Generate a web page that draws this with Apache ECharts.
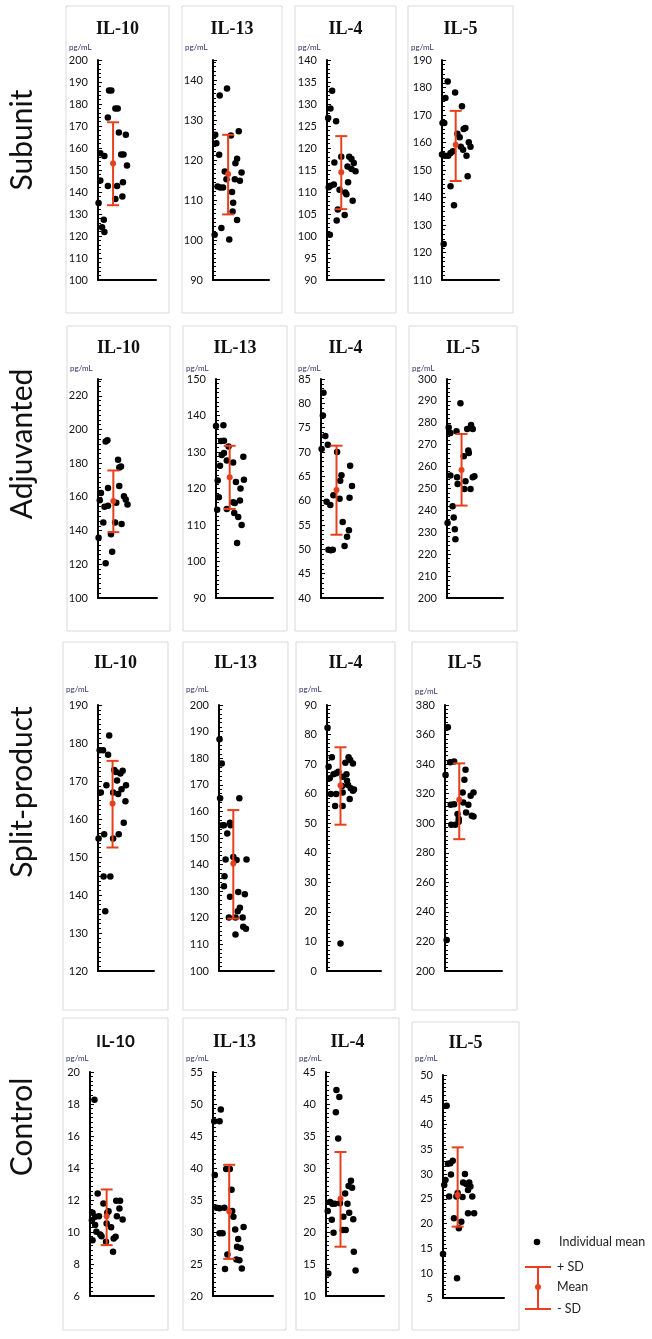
<!DOCTYPE html>
<html>
<head>
<meta charset="utf-8">
<script src="https://cdn.jsdelivr.net/npm/echarts@6/dist/echarts.min.js"></script>
<style>
  html, body { margin: 0; padding: 0; background: #fff; }
  #chart { width: 652px; height: 1339px; }
</style>
</head>
<body>
<div id="chart"></div>
<script>
// categories
const cytokines = ['IL-10', 'IL-13', 'IL-4', 'IL-5'];
const groups = ['Subunit', 'Adjuvanted', 'Split-product', 'Control'];

// y axis ticks per group (order IL-10, IL-13, IL-4, IL-5)
const yMin = [[100, 90, 90, 110], [100, 90, 40, 200], [120, 100, 0, 200], [6, 20, 10, 5]];
const yMax = [[200, 145, 140, 190], [230, 150, 85, 300], [190, 200, 90, 380], [20, 55, 45, 50]];
const yStep = [[10, 10, 5, 10], [20, 10, 5, 10], [10, 10, 10, 20], [2, 5, 5, 5]];

// individual means: [jitter, pg/mL]
const subunitIL10 = [[1.9,186.1],[2.3,186.1],[3.0,178],[3.4,178],[1.7,173.9],[3.6,167],[4.8,166],[0.4,157.6],[1.1,156.4],[4.0,157],[4.4,157],[0.4,145.2],[1.7,142.7],[3.3,142.7],[5.0,152],[4.3,144.4],[3.0,136.8],[4.2,138],[0.1,135],[1.0,127.4],[0.7,124],[1.1,121.8]];
const subunitIL13 = [[2.5,137.9],[1.2,136.1],[0.4,126.3],[0.6,124.2],[1.1,121.3],[4.6,127.2],[3.2,126.1],[4.3,120.3],[4.0,119.2],[5.1,116.9],[4.8,114.8],[3.9,115.2],[2.1,117.1],[2.4,115.2],[0.8,113.4],[1.3,113.1],[1.8,113.1],[3.4,112],[3.6,109.3],[3.5,107.1],[4.3,105],[1.5,103],[0.3,101.3],[2.9,100.1]];
const subunitIL4 = [[0.9,133],[0.6,129],[0.2,126.8],[1.6,126.1],[1.3,116.7],[2.5,118],[3.9,118],[4.3,117.5],[4.7,116.6],[3.6,115.8],[4.3,115.2],[5.0,114.7],[0.6,111.4],[1.2,111.7],[0.3,111.1],[2.2,110.5],[3.7,112.2],[3.2,109.9],[3.4,109.5],[4.5,108],[1.9,106],[3.1,104.8],[1.7,103.5],[0.5,100.3]];
const subunitIL5 = [[1.0,182.2],[0.6,176.2],[2.3,178.2],[0.4,167.1],[0.1,167.1],[3.5,173.2],[0,155.6],[0.5,155.2],[1.1,155.2],[1.5,156.2],[1.9,156.8],[2.7,163.2],[3.1,161.9],[3.8,164.9],[4.1,165.3],[4.7,160.1],[5.0,158.5],[3.7,157.4],[4.3,155.2],[4.5,147.7],[1.5,144.1],[2.1,137.2],[0.3,123.1],[3.3,158.5]];

const adjuvantedIL10 = [[1.3,192.9],[1.6,193.6],[3.4,182],[3.9,178.1],[3.6,177.5],[3.6,166.5],[1.7,165.3],[0.5,162.4],[0.3,158],[4.4,160.4],[4.7,158.4],[5.0,155.5],[3.1,156.5],[1.1,154.1],[1.7,154.7],[0.9,144.8],[2.9,144.8],[4.0,143.9],[2.2,137.8],[0.1,135.8],[2.4,127.5],[1.3,120.6]];
const adjuvantedIL13 = [[0,137.1],[1.3,137.3],[0.9,133],[1.4,133.1],[2.2,131.5],[1.4,129.7],[1.0,129.2],[0.7,126.2],[1.9,127.7],[3.0,127.1],[4.8,128.7],[0.3,122.2],[4.9,122.4],[3.5,121.8],[4.3,120],[0.5,117.6],[4.2,116.7],[3.3,116],[3.0,116.2],[0.2,114.2],[1.9,114.4],[3.2,113.3],[3.9,112.2],[4.5,110],[3.7,105.1]];
const adjuvantedIL4 = [[0.4,82.2],[0.3,77.5],[0.7,73.3],[1.1,71.5],[0.1,70.6],[2.6,70],[4.7,67.2],[3.3,65.2],[3.1,64.1],[5.0,63],[2.0,61.1],[3.0,60.4],[4.6,60.6],[0.9,59.8],[1.5,59.1],[3.5,55.6],[4.5,53.9],[4.2,52.6],[3.8,50.7],[1.2,49.9],[1.6,49.8],[1.9,49.9]];
const adjuvantedIL5 = [[2.4,288.9],[0.3,277.9],[0.6,275.3],[1.7,276.1],[3.6,277.2],[4.3,279],[4.6,277.2],[3.8,267.3],[3.9,266.2],[3.0,264.7],[0.6,255.9],[1.8,255.1],[1.9,252.1],[3.3,253.3],[4.9,255.6],[4.6,255.1],[3.1,249.8],[4.2,249.8],[1.0,241.9],[1.2,236.8],[0.1,234.2],[1.4,231.4],[1.5,226.8]];

const splitIL10 = [[2.0,182],[0.3,178.1],[0.9,178.1],[1.8,176.9],[0.5,167],[1.5,168.9],[2.9,172.9],[3.2,172.4],[4.4,172.7],[4.0,172],[3.4,170.1],[2.7,167],[3.6,166.6],[4.2,167.8],[5.0,168.9],[4.9,164.7],[4.6,159],[0.1,154.9],[1.1,156],[2.7,154.9],[3.7,156],[1.0,144.9],[2.2,144.9],[1.3,135.7]];
const splitIL13 = [[0.1,187.1],[0.5,178],[0.2,164.9],[3.7,164.9],[0.6,154.8],[0.9,154.8],[2.0,155.7],[2.1,154.8],[1.5,151.7],[1.2,141.9],[2.6,142.9],[3.2,141.7],[5.0,141.9],[1.0,135.6],[0.9,131.9],[2.0,127.9],[3.5,129.7],[4.7,128.9],[3.8,123.8],[3.4,122.5],[3.0,120.1],[1.8,120.1],[4.3,120.1],[4.4,116.6],[4.9,115.9],[3.0,113.7]];
const splitIL4 = [[0.1,82.3],[0.9,72.3],[0.3,69.1],[0.5,65.2],[1.2,66.6],[1.7,66.9],[2.1,67.4],[2.9,65.7],[3.6,66.6],[4.0,72.3],[4.3,71.4],[3.4,70.5],[4.8,70.2],[3.7,64.4],[3.9,62.9],[2.8,62.6],[4.4,61.8],[4.8,61],[5.0,61.4],[0.7,59.9],[1.7,59.9],[2.9,60.4],[4.2,58.2],[1.5,55.8],[2.9,55.8],[2.5,9.3]];
const splitIL5 = [[0.5,364.9],[0.9,341.2],[1.6,341.8],[0.1,332.6],[3.6,336.2],[3.4,329.4],[3.1,320.8],[5.0,320.8],[4.5,318.6],[1.0,312.5],[1.6,312.9],[3.2,314.1],[4.1,312.5],[2.2,306.2],[2.4,302.8],[3.7,307.3],[4.7,305],[5.0,304.6],[1.1,298.9],[1.8,298.9],[2.4,301],[0.3,221]];

const controlIL10 = [[0.7,18.27],[1.2,12.41],[0.4,11.2],[0.8,10.95],[1.4,10.99],[2.1,11.78],[2.7,11.2],[2.9,11.3],[4.1,11.95],[4.7,11.95],[4.6,11.47],[4.2,10.99],[5.1,10.78],[2.6,10.53],[3.3,10.29],[0.3,10.74],[0.8,10.43],[1.0,10.01],[1.6,9.85],[1.8,9.74],[3.7,9.6],[4.0,9.7],[0.4,9.49],[2.5,9.39],[3.6,8.77]];
const controlIL13 = [[1.3,49.15],[0.2,47.3],[1.1,47.3],[2.2,39.85],[2.8,39.85],[0.3,38.9],[3.1,36.6],[0.6,33.8],[1.1,33.7],[1.9,33.8],[3.2,33.3],[3.4,32.4],[3.7,30.4],[5.1,30.8],[1.1,29.8],[1.6,29.8],[4.2,28.9],[4.0,27.7],[4.6,27.5],[2.4,26.5],[3.9,25.7],[4.4,25.6],[2.0,24.2],[4.8,24.3]];
const controlIL4 = [[1.8,42.2],[2.3,41.1],[1.7,38.7],[2.1,34.6],[4.3,28],[4.5,26.9],[3.9,27.2],[3.3,26],[0.7,24.7],[1.1,24.4],[1.5,24.4],[2.4,24.5],[3.7,24.4],[0.3,23.3],[4.0,23],[3.0,22.4],[1.0,21.9],[4.7,22],[1.3,19.9],[2.9,20.3],[3.4,20.3],[4.8,16.9],[0.4,13.5],[5.1,14]];
const controlIL5 = [[0.6,43.8],[0.8,32.1],[1.2,32.2],[1.6,32.7],[1.3,29.9],[0.4,28.8],[0.2,27.8],[3.6,30],[3.3,28.3],[3.8,28],[4.3,28.3],[4.5,27.5],[4.1,26.8],[1.0,25.5],[2.2,25.5],[3.2,25.4],[4.8,25.5],[2.4,26.2],[4.1,22.1],[5.1,22.1],[1.8,21.1],[3.0,20.4],[2.6,19.1],[0,13.9],[2.3,9]];

// [mean, +SD, -SD] per cytokine
const subunitStats = [[153, 171.7, 134], [116.5, 126.3, 106.4], [114.5, 122.7, 106.1], [159.2, 171.5, 146]];
const adjuvantedStats = [[157.6, 175.7, 139.1], [123.1, 131.7, 114.4], [62.2, 71.3, 53], [258.4, 274.9, 242.2]];
const splitStats = [[164.1, 175.3, 152.5], [140.4, 160.5, 119.7], [62.8, 75.7, 49.5], [315.9, 340.5, 289.2]];
const controlStats = [[10.99, 12.66, 9.18], [33.2, 40.5, 25.8], [25.2, 32.5, 17.7], [25.8, 35.4, 19.4]];
// jitter position of the mean bar
const subunitStatX = [2.6, 2.7, 2.5, 2.4];
const adjuvantedStatX = [2.6, 2.4, 2.5, 2.6];
const splitStatX = [2.6, 2.6, 2.5, 2.5];
const controlStatX = [2.6, 2.7, 2.5, 2.4];

const groupPoints = [
  [subunitIL10, subunitIL13, subunitIL4, subunitIL5],
  [adjuvantedIL10, adjuvantedIL13, adjuvantedIL4, adjuvantedIL5],
  [splitIL10, splitIL13, splitIL4, splitIL5],
  [controlIL10, controlIL13, controlIL4, controlIL5]
];
const groupStats = [subunitStats, adjuvantedStats, splitStats, controlStats];
const groupStatX = [subunitStatX, adjuvantedStatX, splitStatX, controlStatX];

// layout (px)
const rowBox = [[6, 313], [326, 631], [642, 1010], [1018, 1330]];
const boxLeft = [[66, 182, 295, 408], [67, 183, 295, 409], [63, 183, 296, 412], [63, 183, 296, 412]];
const boxRight = [[169, 282, 396, 513], [170, 287, 396, 517], [168, 288, 395, 517], [168, 286, 399, 519]];
const axisLeft = [[98, 213, 327, 442], [98, 216, 321, 447], [98, 219, 327, 445], [90, 213, 326, 443]];
const axisRight = [[156, 269, 384, 499], [157, 273, 383, 503], [154, 274, 381, 502], [154, 273, 384, 504]];
const plotTop = [60, 379, 705, 1072];
const plotBottom = [280, 598, 971, 1296];
const titleY = [29, 348, 663, 1042];
const unitY = [47, 368, 689, 1058];
const rowLabelY = [140, 444, 792, 1127];

const RED = '#e8401c';
const LABEL_FONT = 'Lato';

function renderErrorBar (params, api) {
  const x = api.value(0);
  const mid = api.coord([x, api.value(1)]);
  const hi = api.coord([x, api.value(2)]);
  const lo = api.coord([x, api.value(3)]);
  const cap = 6;
  const line = { stroke: RED, lineWidth: 2 };
  return {
    type: 'group',
    children: [
      { type: 'line', shape: { x1: hi[0], y1: hi[1], x2: lo[0], y2: lo[1] }, style: line },
      { type: 'line', shape: { x1: hi[0] - cap, y1: hi[1], x2: hi[0] + cap, y2: hi[1] }, style: line },
      { type: 'line', shape: { x1: lo[0] - cap, y1: lo[1], x2: lo[0] + cap, y2: lo[1] }, style: line },
      { type: 'circle', shape: { cx: mid[0], cy: mid[1], r: 3 }, style: { fill: RED } }
    ]
  };
}

const grid = [];
const xAxis = [];
const yAxis = [];
const series = [];
const elements = [];

for (let r = 0; r < groups.length; r++) {
  for (let c = 0; c < cytokines.length; c++) {
    const i = r * 4 + c;
    let top = plotTop[r];
    let bottom = plotBottom[r];
    let boxTop = rowBox[r][0];
    if (r === 3 && c === 3) { top += 3; bottom += 2; boxTop += 4; }
    grid.push({
      left: axisLeft[r][c],
      top: top,
      width: axisRight[r][c] - axisLeft[r][c],
      height: bottom - top
    });
    xAxis.push({
      type: 'value', gridIndex: i, min: 0, max: 10,
      axisLine: { onZero: false, lineStyle: { color: '#000', width: 2 } },
      axisTick: { show: false }, axisLabel: { show: false }, splitLine: { show: false }
    });
    const span = yMax[r][c] - yMin[r][c];
    const pxPerStep = (bottom - top) * yStep[r][c] / span;
    yAxis.push({
      type: 'value', gridIndex: i,
      min: yMin[r][c], max: yMax[r][c], interval: yStep[r][c],
      axisLine: { onZero: false, lineStyle: { color: '#000', width: 2 } },
      axisTick: { inside: true, length: 4, lineStyle: { color: '#000', width: 1 } },
      minorTick: {
        show: true, splitNumber: Math.max(2, Math.round(pxPerStep / 4.5)),
        length: 3, lineStyle: { color: '#000', width: 1 }
      },
      splitLine: { show: false },
      axisLabel: {
        color: '#111', fontFamily: LABEL_FONT, fontSize: 11, margin: 10,
        showMaxLabel: yMax[r][c] % yStep[r][c] === 0
      }
    });
    series.push({
      type: 'scatter', xAxisIndex: i, yAxisIndex: i,
      data: groupPoints[r][c], symbolSize: 6.5, clip: false,
      itemStyle: { color: '#000', opacity: 1 }, z: 2
    });
    const st = groupStats[r][c];
    series.push({
      type: 'custom', xAxisIndex: i, yAxisIndex: i, clip: false, z: 3,
      renderItem: renderErrorBar,
      data: [[groupStatX[r][c], st[0], st[1], st[2]]]
    });

    elements.push({
      type: 'rect',
      shape: { x: boxLeft[r][c], y: boxTop, width: boxRight[r][c] - boxLeft[r][c], height: rowBox[r][1] - boxTop },
      style: { fill: 'transparent', stroke: '#d9d9d9', lineWidth: 1 }
    });
    const sansTitle = r === 3 && c === 0;
    elements.push({
      type: 'text',
      style: {
        text: cytokines[c],
        x: (boxLeft[r][c] + boxRight[r][c]) / 2,
        y: titleY[r] + (r === 3 && c === 3 ? 1 : 0),
        textAlign: 'center', textVerticalAlign: 'middle',
        font: sansTitle ? 'bold 17px Lato' : 'bold 18px "Liberation Serif"',
        fill: '#111'
      }
    });
    elements.push({
      type: 'text',
      style: {
        text: 'pg/mL', x: boxLeft[r][c] + 3, y: unitY[r] + (r === 2 && c === 3 ? 2 : 0),
        textAlign: 'left', textVerticalAlign: 'middle',
        font: '8px Lato', fill: '#2e3266'
      }
    });
  }
  elements.push({
    type: 'text', x: 22, y: rowLabelY[r], rotation: Math.PI / 2,
    style: {
      text: groups[r], x: 0, y: 0, textAlign: 'center', textVerticalAlign: 'middle',
      font: '30px Lato', fill: '#111'
    }
  });
}

// legend
const legendText = { font: '12.5px Lato', fill: '#222', textVerticalAlign: 'middle', textAlign: 'left' };
elements.push(
  { type: 'circle', shape: { cx: 537, cy: 1242, r: 3.3 }, style: { fill: '#000' } },
  { type: 'text', style: Object.assign({ text: 'Individual mean', x: 559, y: 1242 }, legendText) },
  { type: 'line', shape: { x1: 538, y1: 1267, x2: 538, y2: 1309 }, style: { stroke: RED, lineWidth: 2 } },
  { type: 'line', shape: { x1: 525, y1: 1267, x2: 551, y2: 1267 }, style: { stroke: RED, lineWidth: 2 } },
  { type: 'line', shape: { x1: 525, y1: 1309, x2: 551, y2: 1309 }, style: { stroke: RED, lineWidth: 2 } },
  { type: 'circle', shape: { cx: 538, cy: 1287, r: 3 }, style: { fill: RED } },
  { type: 'text', style: Object.assign({ text: '+ SD', x: 557, y: 1267 }, legendText) },
  { type: 'text', style: Object.assign({ text: 'Mean', x: 557, y: 1287 }, legendText) },
  { type: 'text', style: Object.assign({ text: '- SD', x: 557, y: 1309 }, legendText) }
);

const chart = echarts.init(document.getElementById('chart'));
chart.setOption({
  backgroundColor: '#fff',
  animation: false,
  grid: grid,
  xAxis: xAxis,
  yAxis: yAxis,
  series: series,
  graphic: { elements: elements }
});
</script>
</body>
</html>
